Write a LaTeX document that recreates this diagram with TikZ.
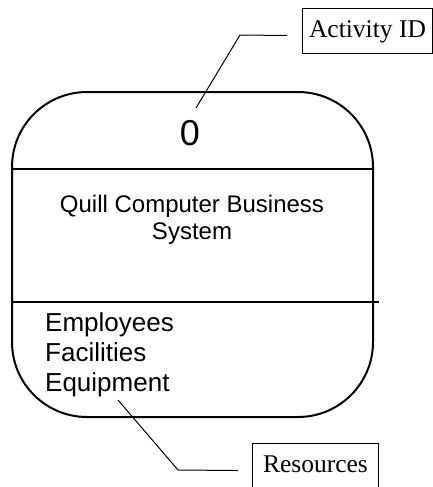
\documentclass[tikz,border=0pt]{standalone}
\usepackage{fontspec}
\setmainfont{Liberation Serif}
\newfontfamily\arialfont{Liberation Sans}
\begin{document}
\begin{tikzpicture}[x=1pt,y=-1pt,
  tagbox/.style={draw,line width=1pt,anchor=north west,inner xsep=0pt,inner ysep=0pt,
    text height=29pt,font=\fontsize{25.5}{30}\selectfont},
  leader/.style={line width=1pt}]
\clip (0,0) rectangle (433,487);
\node[draw,line width=2pt,rounded corners=75pt,minimum width=361pt,minimum height=325pt] (proc) at (192.5,254.5) {};
\draw[line width=1.5pt] (proc.west |- 0,169) -- (proc.east |- 0,169);
\draw[line width=1.5pt] (proc.west |- 0,302) -- ([xshift=5pt]proc.east |- 0,302);
\node[font=\arialfont\fontsize{36}{40}\selectfont] (procid) at (190,133) {0};
\node[font=\arialfont\fontsize{24}{27}\selectfont,align=center] (procname) at (192,220) {Quill Computer Business\\System};
\node[font=\arialfont\fontsize{26}{30}\selectfont,align=left,anchor=north west,inner sep=0pt] (reslist) at (45,312) {Employees\\Facilities\\Equipment};
\node[tagbox,text depth=16pt,minimum width=130pt] (actid) at (302,8) {Activity ID};
\node[tagbox,text depth=20pt,minimum width=126pt] (resbox) at (252,443) {Resources\hspace{12pt}};
\coordinate (actbend) at (240,35);
\coordinate (idtip) at (196,108);
\coordinate (resbend) at (178,470);
\coordinate (restip) at (118,400);
\draw[leader] (actid.west) ++(-15,4.5) -- (actbend) -- (idtip);
\draw[leader] (resbox.west) ++(-14,2.5) -- (resbend) -- (restip);
\end{tikzpicture}
\end{document}
